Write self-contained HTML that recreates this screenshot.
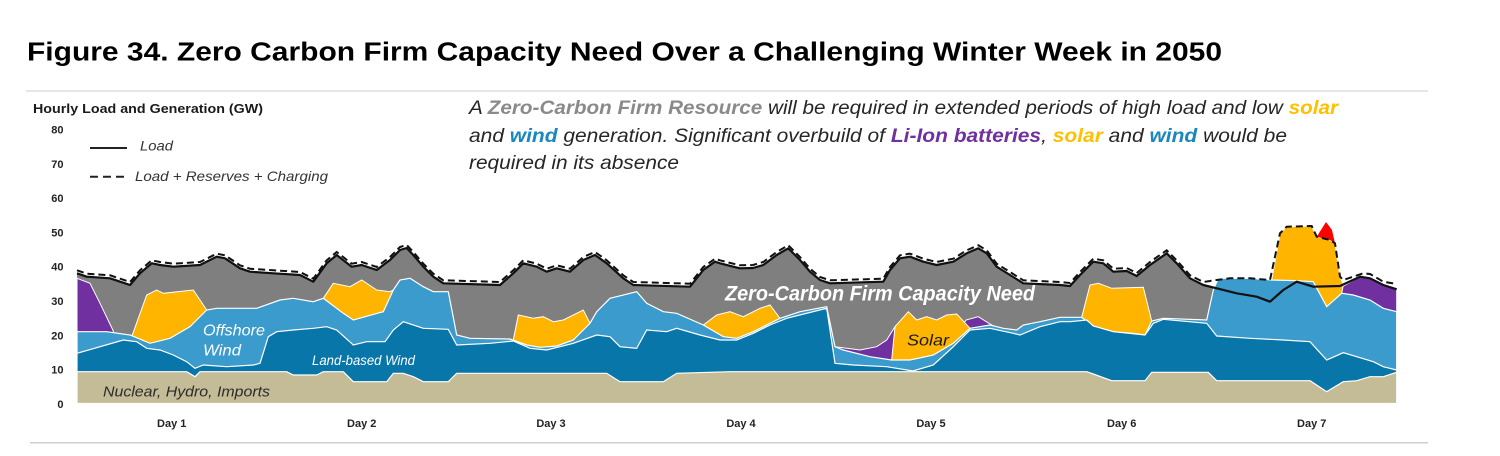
<!DOCTYPE html>
<html>
<head>
<meta charset="utf-8">
<style>
html,body{margin:0;padding:0;background:#fff;}
svg{display:block;}
</style>
</head>
<body>
<svg width="1500" height="456" viewBox="0 0 1500 456" xmlns="http://www.w3.org/2000/svg" font-family="Liberation Sans, Arial, sans-serif">
<rect width="1500" height="456" fill="#fff"/>
<!-- Title -->
<text x="27" y="60.5" font-size="25.5" font-weight="bold" fill="#000" textLength="1195" lengthAdjust="spacingAndGlyphs">Figure 34. Zero Carbon Firm Capacity Need Over a Challenging Winter Week in 2050</text>
<line x1="26" y1="91" x2="1428" y2="91" stroke="#e6e6e6" stroke-width="2"/>
<line x1="30" y1="442.7" x2="1428" y2="442.7" stroke="#cfcfcf" stroke-width="1.5"/>

<!-- Y axis title -->
<text x="33" y="113" font-size="13" font-weight="bold" fill="#1a1a1a" textLength="230" lengthAdjust="spacingAndGlyphs">Hourly Load and Generation (GW)</text>
<!-- Y ticks -->
<g font-size="11" font-weight="bold" fill="#222" text-anchor="end">
<text x="63.5" y="133.5">80</text>
<text x="63.5" y="167.8">70</text>
<text x="63.5" y="202">60</text>
<text x="63.5" y="236.3">50</text>
<text x="63.5" y="270.7">40</text>
<text x="63.5" y="305">30</text>
<text x="63.5" y="339.3">20</text>
<text x="63.5" y="373.6">10</text>
<text x="63.5" y="408">0</text>
</g>

<!-- Legend -->
<line x1="90" y1="148" x2="127" y2="148" stroke="#222" stroke-width="2"/>
<text x="140" y="150.5" font-size="14" font-style="italic" fill="#333" textLength="33" lengthAdjust="spacingAndGlyphs">Load</text>
<line x1="90" y1="176.7" x2="128" y2="176.7" stroke="#222" stroke-width="2" stroke-dasharray="8,5"/>
<text x="135" y="181" font-size="14" font-style="italic" fill="#333" textLength="193" lengthAdjust="spacingAndGlyphs">Load + Reserves + Charging</text>

<!-- Annotation -->
<g font-size="19" font-style="italic" fill="#262626">
<text x="469" y="114" textLength="869" lengthAdjust="spacingAndGlyphs">A <tspan fill="#8a8a8a" font-weight="bold">Zero-Carbon Firm Resource</tspan> will be required in extended periods of high load and low <tspan fill="#ffc000" font-weight="bold">solar</tspan></text>
<text x="469" y="142" textLength="818" lengthAdjust="spacingAndGlyphs">and <tspan fill="#1b87bd" font-weight="bold">wind</tspan> generation. Significant overbuild of <tspan fill="#7030a0" font-weight="bold">Li-Ion batteries</tspan>, <tspan fill="#ffc000" font-weight="bold">solar</tspan> and <tspan fill="#1b87bd" font-weight="bold">wind</tspan> would be</text>
<text x="469" y="169" textLength="210" lengthAdjust="spacingAndGlyphs">required in its absence</text>
</g>

<!-- Gray firm need (up to load) -->
<polygon fill="#7f7f7f" points="77,273.3 86.7,276.7 110,278.3 130,285 140,273.3 151.7,263.3 160,265 173.3,266.7 200,265 216.7,256.7 225,258.3 240,268.3 250,271.7 273.3,273.3 300,275 313.3,281.7 326.7,263.3 336.7,255 351.7,266.7 361.7,265 376.7,270 390,260 400,250 406.7,248 413.3,255 423.3,266.7 433.3,276.7 443.3,283.3 500,285 513.3,273.3 523.3,263.3 536.7,266.7 546.7,271.7 556.7,268.3 570,271.7 583.3,260 595,255 606.7,263.3 623.3,278.3 633.3,285 690,286.7 703.3,270 715,261.7 720,263.3 733.3,266.7 740,268.3 753,268 763.3,265 776.7,255 788.3,248.3 800,260 810,271.7 820,280 830,283.3 883.3,281.7 890,270 900,258.3 910,256.7 923.3,261.7 936.7,265 953.3,261.7 966.7,253.3 978.3,248.3 986.7,253.3 996.7,266.7 1010,275 1023.3,283.3 1060,285 1070,286 1080,275 1093.3,261.7 1103.3,263.3 1113.3,271.7 1126.7,271 1136.7,276 1150,265 1166.7,253.3 1176.7,263.3 1190,278.3 1203.3,285 1216.7,288.3 1236.7,293.3 1256.7,296.7 1270,301.7 1283.3,290 1296.7,281.7 1313.3,286.7 1340,286 1360,276.7 1370,278.3 1383.3,285 1396.7,289.3 1396.7,403.5 77,403.5"/>

<!-- Purple (Li-Ion) -->
<g fill="#7030a0" stroke="#fff" stroke-width="1">
<polygon points="77,278.3 90,283.3 100,303.3 113.3,331 113.3,403.5 77,403.5"/>
<polygon points="835,346.7 860,350 876.7,346.7 886.7,340 895,326.7 895,403.5 835,403.5"/>
<polygon points="962,326 966,320 978.3,316.7 990,324 995,327 995,403.5 962,403.5"/>
<polygon points="1341.7,287 1360,276.7 1370,278.3 1383.3,285 1396.7,289.3 1396.7,403.5 1341.7,403.5"/>
</g>

<!-- Solar -->
<g fill="#ffb400" stroke="#fff" stroke-width="1">
<polygon points="131.7,336.7 146.7,295 156.7,290 163.3,293.3 193.3,290 206.7,310 206.7,403.5 131.7,403.5"/>
<polygon points="323.3,298.3 333.3,283.3 350,286.7 361.7,280 376.7,290 390,291.7 393.3,290 393.3,403.5 323.3,403.5"/>
<polygon points="513.3,340 518.3,315 533.3,318.3 543.3,316.7 553.3,321.7 563.3,320 583.3,310 590,323.3 590,403.5 513.3,403.5"/>
<polygon points="703.3,325 716.7,315 730,311.7 743.3,316.7 760,308.3 770,305 780,318.3 780,403.5 703.3,403.5"/>
<polygon points="891.7,360 895,326.7 908.3,311.7 916.7,320 926.7,316.7 936.7,320 946.7,315 956.7,314 970,328.3 970,403.5 891.7,403.5"/>
<polygon points="1081.7,317.3 1090,285 1098.3,283.3 1111.7,288.3 1143.3,287.3 1151.7,321 1151.7,403.5 1081.7,403.5"/>
<polygon points="1271.7,280 1280,233.3 1286.7,226.7 1311.7,226 1316.7,236.7 1330,240 1335,243.3 1340,276.7 1343.3,285 1341.7,293.3 1341.7,403.5 1271.7,403.5"/>
</g>

<!-- Offshore wind -->
<polygon fill="#3a9bcc" stroke="#fff" stroke-width="1.2" points="77,331.7 106.7,331.7 130,335 150,343.3 170,338.3 190,326.7 206.7,310 216.7,308.3 256.7,308.3 280,300 293.3,298.3 313.3,301.7 323.3,298.3 343.3,313.3 353.3,320 383.3,311.7 393.3,290 400,280 410,278.3 423.3,286.7 433.3,291.7 448.3,291.7 456.7,335 470,338.3 510,339 526.7,345 540,347.3 556.7,346 573.3,340 590,323.3 596.7,311.7 610,298.3 636.7,291.7 646.7,303.3 663.3,311.7 676.7,313.3 703.3,325 723.3,336.7 736.7,338.3 753.3,331.7 780,318.3 800,311.7 826.7,306.7 835,346.7 843.3,350 870,356.7 891.7,360 910,360 933.3,355 953.3,343.3 970,328.3 990,325 1003.3,328.3 1016.7,330 1023.3,325 1040,321.7 1060,317.3 1081.7,317.3 1093.3,326 1113.3,331.7 1133.3,333.3 1145,335 1151.7,321 1163.3,318.3 1206.7,320 1213.3,290 1218.3,278.3 1250,278.3 1271.7,280 1296.7,280.7 1313.3,281.7 1326.7,306.7 1341.7,293.3 1353.3,295 1370,300 1383.3,308.3 1396.7,311.7 1396.7,403.5 77,403.5"/>

<!-- Land-based wind -->
<polygon fill="#0876a9" stroke="#fff" stroke-width="1.2" points="77,353.3 123.3,340 136.7,341.7 146.7,348.3 160,350 173.3,355 186.7,361.7 195,368.3 203.3,365 226.7,366.7 253.3,365 260,363.3 268.3,336.7 276.7,331.7 293.3,330 313.3,328.3 326.7,326.7 336.7,330 353.3,345 366.7,341.7 385,341.7 393.3,330 403.3,321.7 423.3,328.3 448.3,329.3 456.7,345 490,343.3 513.3,341 530,348.3 546.7,350 573.3,343.3 596.7,335 610,336.7 620,346.7 636.7,348.3 646.7,330 666.7,331.7 676.7,328.3 700,335 720,340 736.7,340 753.3,333.3 770,325 786.7,318.3 826.7,308.3 835,363.3 853.3,365 886.7,366.7 913,371 933.3,365 953.3,346.7 970,330 990,328.3 1013.3,333.3 1020,335 1040,326.7 1060,321.7 1070,321.7 1086.7,320 1093.3,326 1113.3,331.7 1145,335 1153.3,323.3 1163.3,319.3 1206.7,323.3 1216.7,336 1250,338.3 1283.3,340 1310,341.7 1326.7,360 1343.3,352.7 1356.7,356.7 1373.3,361.7 1383.3,366.7 1396.7,370 1396.7,403.5 77,403.5"/>

<!-- Nuclear, Hydro, Imports -->
<polygon fill="#c4bc97" stroke="#fff" stroke-width="1.2" points="77,371.7 186.7,371.7 195,376.7 200,371.7 286.7,371.7 293.3,375 316.7,375 323.3,371.7 343.3,371.7 353.3,381.7 386.7,381.7 393.3,373.3 403.3,373.3 413.3,376.7 423.3,381.7 448.3,381.7 456.7,373.3 606.7,373.3 620,381.7 663.3,381.7 676.7,373.3 730,371.7 1086.7,371.7 1093.3,374 1111.7,380.7 1145,380.7 1151.7,372.3 1208.3,372.3 1216.7,380.7 1310,380.7 1326.7,391.7 1343.3,381.7 1356.7,380.7 1370,376.7 1383.3,376.7 1396.7,372.3 1396.7,403.5 77,403.5"/>

<!-- Red triangle -->
<polygon fill="#ff0000" points="1316.7,236.7 1326,222 1332,230 1335,243.3 1330,240"/>

<!-- Dashed line (Load + Reserves + Charging) -->
<polyline fill="none" stroke="#111" stroke-width="2" stroke-dasharray="7,4" points="77,270.3 86.7,273.7 110,275.3 130,282 140,270.3 151.7,260.3 160,262 173.3,263.7 200,262 216.7,253.7 225,255.3 240,265.3 250,268.7 273.3,270.3 300,272 313.3,278.7 326.7,260.3 336.7,252 351.7,263.7 361.7,262 376.7,267 390,257 400,247 406.7,245 413.3,252 423.3,263.7 433.3,273.7 443.3,280.3 500,282 513.3,270.3 523.3,260.3 536.7,263.7 546.7,268.7 556.7,265.3 570,268.7 583.3,257 595,252 606.7,260.3 623.3,275.3 633.3,282 690,283.7 703.3,267 715,258.7 720,260.3 733.3,263.7 740,265.3 753,265 763.3,262 776.7,252 788.3,245.3 800,257 810,268.7 820,277 830,280.3 883.3,278.7 890,267 900,255.3 910,253.7 923.3,258.7 936.7,262 953.3,258.7 966.7,250.3 978.3,245.3 986.7,250.3 996.7,263.7 1010,272 1023.3,280.3 1060,282 1070,283 1080,272 1093.3,258.7 1103.3,260.3 1113.3,268.7 1126.7,268 1136.7,273 1150,262 1166.7,250.3 1176.7,260.3 1190,275.3 1203.3,282 1210,281 1216.7,280 1230,278.3 1250,278.3 1270,280 1280,233.3 1286.7,226.7 1311.7,226 1316.7,236.7 1330,240 1335,243.3 1340,276.7 1343.3,280 1363.3,273.3 1370,274 1383.3,281.7 1396.7,284"/>

<!-- Load line -->
<polyline fill="none" stroke="#111" stroke-width="2.2" stroke-linejoin="round" points="77,273.3 86.7,276.7 110,278.3 130,285 140,273.3 151.7,263.3 160,265 173.3,266.7 200,265 216.7,256.7 225,258.3 240,268.3 250,271.7 273.3,273.3 300,275 313.3,281.7 326.7,263.3 336.7,255 351.7,266.7 361.7,265 376.7,270 390,260 400,250 406.7,248 413.3,255 423.3,266.7 433.3,276.7 443.3,283.3 500,285 513.3,273.3 523.3,263.3 536.7,266.7 546.7,271.7 556.7,268.3 570,271.7 583.3,260 595,255 606.7,263.3 623.3,278.3 633.3,285 690,286.7 703.3,270 715,261.7 720,263.3 733.3,266.7 740,268.3 753,268 763.3,265 776.7,255 788.3,248.3 800,260 810,271.7 820,280 830,283.3 883.3,281.7 890,270 900,258.3 910,256.7 923.3,261.7 936.7,265 953.3,261.7 966.7,253.3 978.3,248.3 986.7,253.3 996.7,266.7 1010,275 1023.3,283.3 1060,285 1070,286 1080,275 1093.3,261.7 1103.3,263.3 1113.3,271.7 1126.7,271 1136.7,276 1150,265 1166.7,253.3 1176.7,263.3 1190,278.3 1203.3,285 1216.7,288.3 1236.7,293.3 1256.7,296.7 1270,301.7 1283.3,290 1296.7,281.7 1313.3,286.7 1340,286 1360,276.7 1370,278.3 1383.3,285 1396.7,289.3"/>

<!-- In-chart labels -->
<text x="203" y="335.5" font-size="16" font-style="italic" fill="#fff" textLength="62" lengthAdjust="spacingAndGlyphs">Offshore</text>
<text x="203" y="355.5" font-size="16" font-style="italic" fill="#fff" textLength="38" lengthAdjust="spacingAndGlyphs">Wind</text>
<text x="312" y="365" font-size="14" font-style="italic" fill="#fff" textLength="103" lengthAdjust="spacingAndGlyphs">Land-based Wind</text>
<text x="103" y="396.5" font-size="15" font-style="italic" fill="#2b2b2b" textLength="167" lengthAdjust="spacingAndGlyphs">Nuclear, Hydro, Imports</text>
<text x="725" y="300.5" font-size="21" font-style="italic" font-weight="bold" fill="#fff" textLength="310" lengthAdjust="spacingAndGlyphs">Zero-Carbon Firm Capacity Need</text>
<text x="907" y="345.5" font-size="16" font-style="italic" fill="#1a1a1a" textLength="42" lengthAdjust="spacingAndGlyphs">Solar</text>

<!-- Day labels -->
<g font-size="11" font-weight="bold" fill="#222" text-anchor="middle">
<text x="171.7" y="427">Day 1</text>
<text x="361.7" y="427">Day 2</text>
<text x="551" y="427">Day 3</text>
<text x="741" y="427">Day 4</text>
<text x="931" y="427">Day 5</text>
<text x="1121.7" y="427">Day 6</text>
<text x="1311.7" y="427">Day 7</text>
</g>
</svg>
</body>
</html>
